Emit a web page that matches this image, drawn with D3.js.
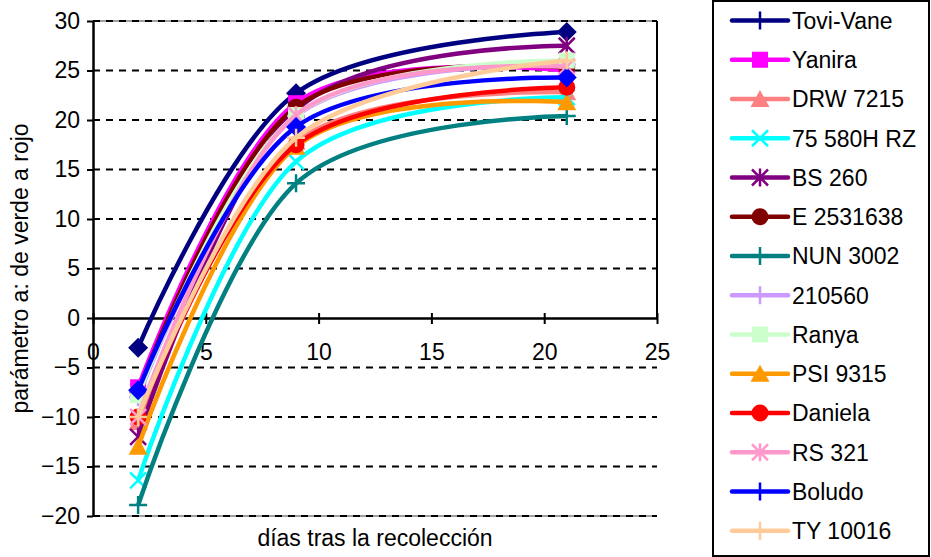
<!DOCTYPE html>
<html>
<head>
<meta charset="utf-8">
<script src="https://cdn.jsdelivr.net/npm/d3@7"></script>
<style>
  html, body { margin: 0; padding: 0; background: #fff; }
  svg { display: block; font-family: "Liberation Sans", Arial, sans-serif; }
</style>
</head>
<body>
<svg id="chart" width="931" height="557"></svg>
<script>
// ---- data ----
const days = [2, 9, 21];
const seriesNames = ["Tovi-Vane", "Yanira", "DRW 7215", "75 580H RZ", "BS 260", "E 2531638", "NUN 3002",
                     "210560", "Ranya", "PSI 9315", "Daniela", "RS 321", "Boludo", "TY 10016"];
const toviVane   = [-3.0, 22.7, 28.9];
const yanira     = [-7.0, 21.7, 25.0];
const drw7215    = [-10.5, 17.8, 22.8];
const rz75580H   = [-16.4, 15.8, 22.3];
const bs260      = [-12.0, 21.0, 27.5];
const e2531638   = [-7.5, 21.3, 25.3];
const nun3002    = [-18.9, 13.6, 20.4];
const s210560    = [-8.0, 20.4, 25.6];
const ranya      = [-7.8, 20.5, 26.0];
const psi9315    = [-13.0, 17.3, 21.8];
const daniela    = [-10.0, 17.5, 23.3];
const rs321      = [-10.0, 20.5, 25.4];
const boludo     = [-7.3, 19.3, 24.3];
const ty10016    = [-10.0, 18.2, 26.0];
const seriesValues = [toviVane, yanira, drw7215, rz75580H, bs260, e2531638, nun3002,
                      s210560, ranya, psi9315, daniela, rs321, boludo, ty10016];
const xTicks = [0, 5, 10, 15, 20, 25];
const yTicks = [-20, -15, -10, -5, 0, 5, 10, 15, 20, 25, 30];
const xTitle = "días tras la recolección";
const yTitle = "parámetro a: de verde a rojo";

// styles (not data)
const colors = ["#000080", "#FF00FF", "#FF8080", "#00FFFF", "#800080", "#800000", "#008080",
                "#CC99FF", "#CCFFCC", "#FF9900", "#FF0000", "#FF99CC", "#0000FF", "#FFCC99"];
const plotMarkers = ["diamond", "square", "triangle", "x", "asterisk", "circle", "plus",
                     "plus", "square", "triangle", "circle", "asterisk", "diamond", "plus"];
const legendMarkers = ["plus", "square", "triangle", "x", "asterisk", "circle", "plus",
                       "plus", "square", "triangle", "circle", "asterisk", "plus", "plus"];

const svg = d3.select("#chart");
const FONT = 23;
const pL = 93, pR = 657, pT = 21, pB = 516;
const x = d3.scaleLinear().domain([0, 25]).range([pL, pR]);
const y = d3.scaleLinear().domain([-20, 30]).range([pB, pT]);

// plot border top/bottom (gray)
svg.append("line").attr("x1", pL).attr("x2", pR).attr("y1", pT).attr("y2", pT)
  .attr("stroke", "#808080").attr("stroke-width", 1.5);
svg.append("line").attr("x1", pL).attr("x2", pR).attr("y1", pB).attr("y2", pB)
  .attr("stroke", "#808080").attr("stroke-width", 1.5);

// gridlines
svg.append("g").selectAll("line").data(yTicks.filter(d => d !== 0)).join("line")
  .attr("x1", pL).attr("x2", pR)
  .attr("y1", d => y(d)).attr("y2", d => y(d))
  .attr("stroke", "#000").attr("stroke-width", 2)
  .attr("stroke-dasharray", "7,6");

// right border segment
svg.append("line").attr("x1", pR).attr("x2", pR).attr("y1", pT).attr("y2", y(0))
  .attr("stroke", "#000").attr("stroke-width", 2);

// y axis
const yAxis = svg.append("g").attr("transform", `translate(${pL},0)`)
  .call(d3.axisLeft(y).tickValues(yTicks).tickSizeInner(6).tickSizeOuter(0).tickPadding(7));
yAxis.select(".domain").attr("stroke", "#000").attr("stroke-width", 2.5);
yAxis.selectAll(".tick line").attr("stroke", "#000").attr("stroke-width", 2);
yAxis.selectAll("text").attr("font-size", FONT).attr("font-family", "Liberation Sans, Arial, sans-serif").attr("fill", "#000");

// x axis at y=0
const xAxis = svg.append("g").attr("transform", `translate(0,${y(0)})`)
  .call(d3.axisBottom(x).tickValues(xTicks).tickSizeInner(6).tickSizeOuter(0).tickPadding(20));
xAxis.select(".domain").attr("stroke", "#000").attr("stroke-width", 2.5);
xAxis.selectAll(".tick line").attr("y1", -5).attr("y2", 6).attr("stroke", "#000").attr("stroke-width", 2);
xAxis.selectAll("text").attr("font-size", FONT).attr("font-family", "Liberation Sans, Arial, sans-serif").attr("fill", "#000");

// titles
svg.append("text").attr("x", (pL + pR) / 2).attr("y", 546).attr("text-anchor", "middle")
  .attr("font-size", FONT).text(xTitle);
svg.append("text").attr("transform", `translate(28,${(pT + pB) / 2}) rotate(-90)`)
  .attr("text-anchor", "middle").attr("font-size", FONT).text(yTitle);

// marker drawing
function drawMarker(g, type, color) {
  switch (type) {
    case "diamond":
      g.append("path").attr("d", "M0,-10L10,0L0,10L-10,0Z").attr("fill", color); break;
    case "square":
      g.append("rect").attr("x", -8).attr("y", -8).attr("width", 16).attr("height", 16).attr("fill", color); break;
    case "triangle":
      g.append("path").attr("d", "M0,-9L9.5,8L-9.5,8Z").attr("fill", color); break;
    case "circle":
      g.append("circle").attr("r", 8.5).attr("fill", color); break;
    case "x":
      g.append("path").attr("d", "M-8,-8L8,8M-8,8L8,-8").attr("stroke", color).attr("stroke-width", 2.5).attr("fill", "none"); break;
    case "plus":
      g.append("path").attr("d", "M-9,0L9,0M0,-9L0,9").attr("stroke", color).attr("stroke-width", 2.5).attr("fill", "none"); break;
    case "asterisk":
      g.append("path").attr("d", "M-8,-8L8,8M-8,8L8,-8M0,-9L0,9").attr("stroke", color).attr("stroke-width", 2.5).attr("fill", "none"); break;
  }
}

// series
const line = d3.line().x(d => x(d[0])).y(d => y(d[1])).curve(d3.curveCardinal.tension(0));
const plot = svg.append("g");
seriesValues.forEach((vals, i) => {
  const pts = days.map((d, j) => [d, vals[j]]);
  const g = plot.append("g");
  g.append("path").attr("d", line(pts)).attr("fill", "none")
    .attr("stroke", colors[i]).attr("stroke-width", 4.5).attr("stroke-linejoin", "round");
  pts.forEach(p => {
    const mg = g.append("g").attr("transform", `translate(${x(p[0])},${y(p[1])})`);
    drawMarker(mg, plotMarkers[i], colors[i]);
  });
});

// legend
const legend = svg.append("g");
legend.append("rect").attr("x", 713).attr("y", 1).attr("width", 216).attr("height", 555)
  .attr("fill", "#fff").attr("stroke", "#000").attr("stroke-width", 2);
seriesNames.forEach((name, i) => {
  const cy = 20.5 + i * 39.25;
  const lg = legend.append("g").attr("transform", `translate(0,${cy})`);
  lg.append("line").attr("x1", 732).attr("x2", 788).attr("y1", 0).attr("y2", 0)
    .attr("stroke", colors[i]).attr("stroke-width", 4.5).attr("stroke-linecap", "round");
  const mg = lg.append("g").attr("transform", "translate(760,0)");
  drawMarker(mg, legendMarkers[i], colors[i]);
  lg.append("text").attr("x", 792).attr("y", 0).attr("dy", "0.36em")
    .attr("font-size", FONT).text(name);
});
</script>
</body>
</html>
